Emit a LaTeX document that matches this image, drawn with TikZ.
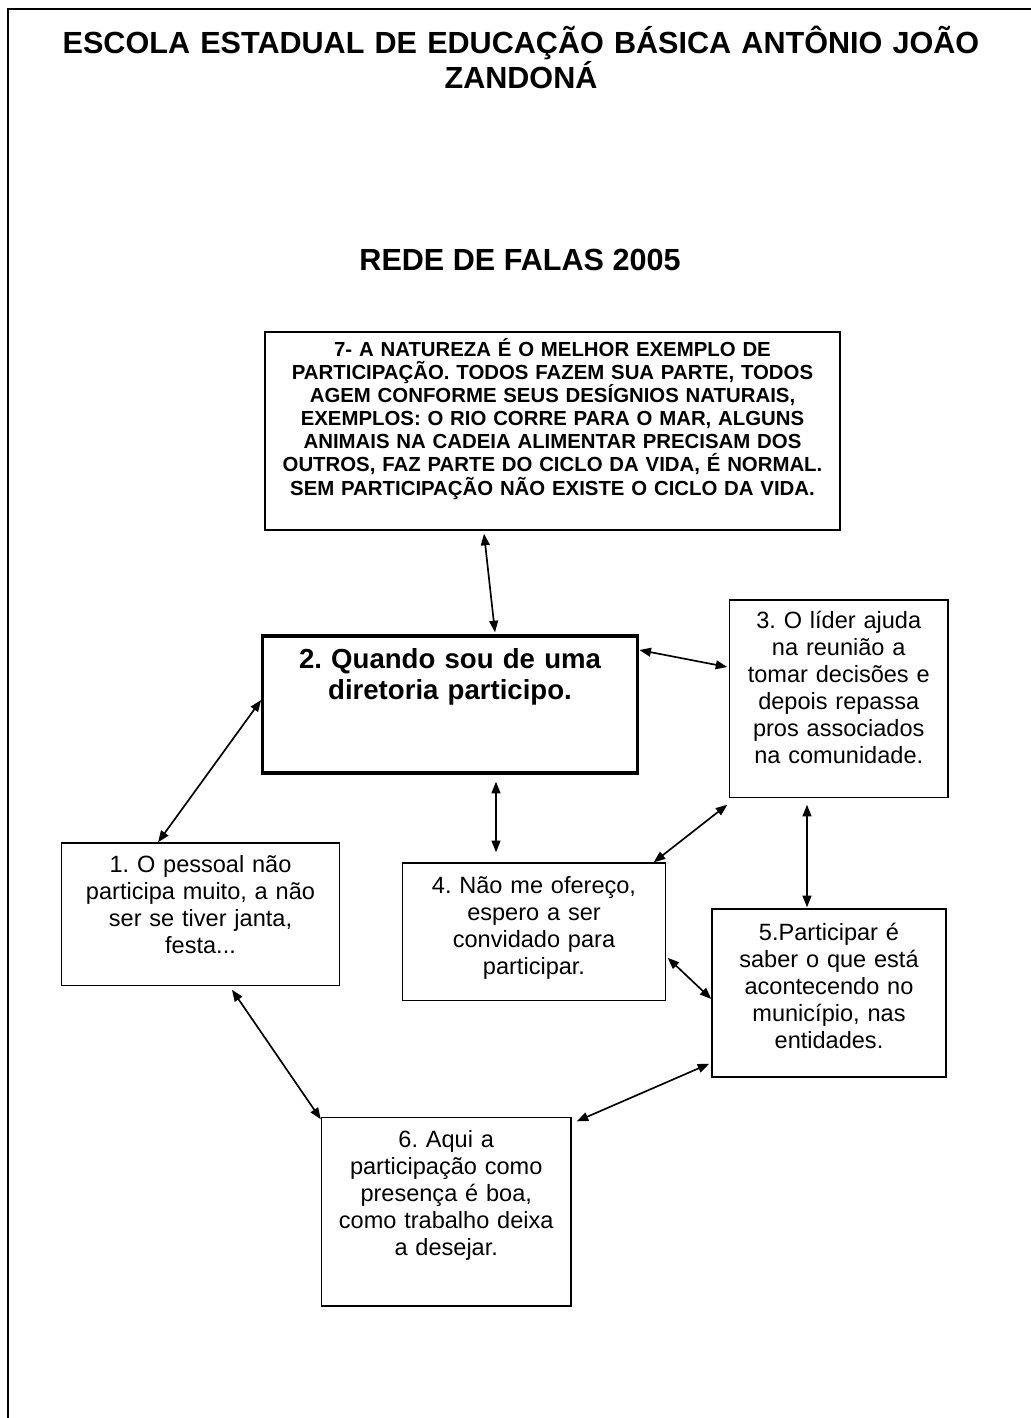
\documentclass[tikz,border=0pt]{standalone}
\usepackage{fontspec}
\setmainfont{Liberation Sans}
\usetikzlibrary{arrows.meta}
\frenchspacing

\begin{document}
\begin{tikzpicture}[
        x=0.02cm, y=-0.02cm,
        titulo/.style={align=center,inner sep=0pt,font=\bfseries\fontsize{17.4}{19.9}\selectfont},
        fala/.style={rectangle,draw,line width=0.8pt,inner sep=0pt,align=center,font=\fontsize{13.4}{15.37}\selectfont},
        destaque/.style={fala,line width=1.9pt,font=\bfseries\fontsize{15.7}{18.2}\selectfont},
        natureza/.style={fala,font=\bfseries\fontsize{11.6}{13.2}\selectfont},
        seta/.style={{Triangle[length=6.6pt,width=5pt]}-{Triangle[length=6.6pt,width=5pt]},line width=0.95pt},
        ]
        \useasboundingbox (0,0) rectangle (1031,1418);

        % Borda da folha
        \draw[line width=1.2pt] (1031,9) -- (8,9) -- (8,1418);

        % Titulos
        \node[titulo,text width=19cm,anchor=base] (escola) at (521,53.3) {ESCOLA ESTADUAL DE EDUCAÇÃO BÁSICA ANTÔNIO JOÃO\\ZANDONÁ};
        \node[titulo,anchor=base] (rede) at (520,270.7) {REDE DE FALAS 2005};

        % Falas
        \node[natureza,text width=11.5cm,text height=0.48cm,text depth=3.48cm] (b7) at (552.5,431) {7- A NATUREZA É O MELHOR EXEMPLO DE\\PARTICIPAÇÃO. TODOS FAZEM SUA PARTE, TODOS\\AGEM CONFORME SEUS DESÍGNIOS NATURAIS,\\EXEMPLOS: O RIO CORRE PARA O MAR, ALGUNS\\ANIMAIS NA CADEIA ALIMENTAR PRECISAM DOS\\OUTROS, FAZ PARTE DO CICLO DA VIDA, É NORMAL.\\SEM PARTICIPAÇÃO NÃO EXISTE O CICLO DA VIDA.};
        \node[destaque,text width=7.49cm,text height=0.64cm,text depth=2.1cm] (b2) at (450,704.5) {2. Quando sou de uma\\diretoria participo.};
        \node[fala,text width=4.37cm,text height=0.56cm,text depth=3.39cm] (b3) at (838.75,698.75) {3. O líder ajuda\\na reunião a\\tomar decisões e\\depois repassa\\pros associados\\na comunidade.};
        \node[fala,text width=5.56cm,text height=0.58cm,text depth=2.27cm] (b1) at (200.5,914.25) {1. O pessoal não\\participa muito, a não\\ser se tiver janta,\\festa...};
        \node[fala,text width=5.26cm,text height=0.6cm,text depth=2.15cm] (b4) at (534,931.75) {4. Não me ofereço,\\espero a ser\\convidado para\\participar.};
        \node[fala,text width=4.68cm,text height=0.62cm,text depth=2.74cm] (b5) at (829,993) {5.Participar é\\saber o que está\\acontecendo no\\município, nas\\entidades.};
        \node[fala,text width=4.99cm,text height=0.59cm,text depth=3.18cm] (b6) at (446.25,1211.75) {6. Aqui a\\participação como\\presença é boa,\\como trabalho deixa\\a desejar.};

        % Ligacoes
        \draw[seta] ([xshift=-1.37cm,yshift=-0.06cm]b7.south) -- ([xshift=0.9cm,yshift=0.04cm]b2.north);
        \draw[seta] ([xshift=0.01cm,yshift=1.09cm]b2.east) -- ([xshift=-0.03cm,yshift=0.635cm]b3.west);
        \draw[seta] ([xshift=0.92cm,yshift=-0.14cm]b2.south) -- ([xshift=-0.76cm,yshift=0.2cm]b4.north);
        \draw[seta] ([yshift=0.09cm]b2.west) -- ([xshift=-0.85cm]b1.north);
        \draw[seta] ([xshift=-0.03cm,yshift=-0.13cm]b3.south west) -- ([xshift=-0.25cm]b4.north east);
        \draw[seta] ([xshift=-0.635cm,yshift=-0.13cm]b3.south) -- ([xshift=-0.44cm,yshift=0.02cm]b5.north);
        \draw[seta] ([xshift=0.03cm,yshift=-0.52cm]b4.east) -- ([yshift=-0.12cm]b5.west);
        \draw[seta] ([xshift=0.63cm,yshift=-0.07cm]b1.south) -- ([yshift=-0.05cm]b6.north west);
        \draw[seta] ([xshift=-0.04cm,yshift=0.28cm]b5.south west) -- ([xshift=0.1cm,yshift=-0.09cm]b6.north east);
    \end{tikzpicture}
\end{document}
